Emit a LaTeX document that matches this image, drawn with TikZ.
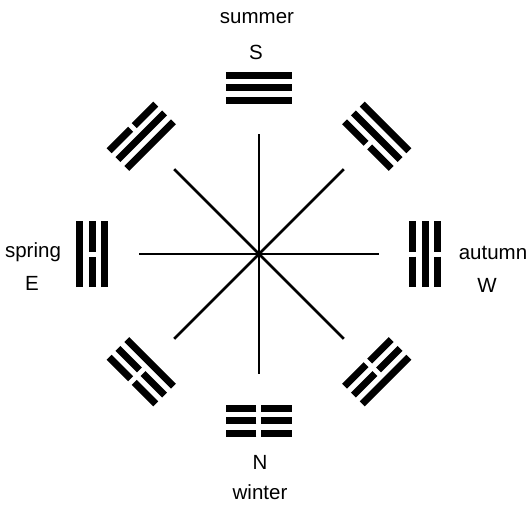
\documentclass[tikz,border=0pt]{standalone}
\usepackage{fontspec}
\setmainfont{Liberation Sans}
\usepackage{tikz}
\usetikzlibrary{positioning}

\begin{document}
\begin{tikzpicture}[
      x=1pt, y=1pt,
      spoke/.style={line width=2.8pt},
      bar/.style={line width=7pt},
      lbl/.style={font=\fontsize{20.5}{22}\selectfont, inner sep=0pt}
  ]
    \useasboundingbox (-259,-250) rectangle (269,254);
    % centre and the eight spokes
    \coordinate (c) at (0,0);
    \foreach \a in {0,45,...,315} {
      \coordinate (end\a) at (\a:120);
      \draw[spoke] (c) -- (end\a);
    }
    % trigrams: angle / inner / middle / outer line (1 = solid, 0 = broken)
    \foreach \a/\i/\m/\o in {90/1/1/1, 135/1/1/0, 180/1/0/1, -135/1/0/0,
                             -90/0/0/0, -45/0/0/1, 0/0/1/0, 45/0/1/1} {
      \begin{scope}[rotate=\a-90]
        \foreach \r/\t in {154/\i, 166.5/\m, 179/\o} {
          \ifnum\t=1
            \draw[bar] (-33,\r) -- (33,\r);
          \else
            \draw[bar] (-33,\r) -- (-2.5,\r) (2.5,\r) -- (33,\r);
          \fi
        }
      \end{scope}
    }
    % labels
    \node[lbl] (summer) at (-2,236) {summer};
    \node[lbl] (south) at (-3,202) {S};
    \node[lbl] (north) at (1,-208) {N};
    \node[lbl] (winter) at (1,-238) {winter};
    \node[lbl] (spring) at (-226,2) {spring};
    \node[lbl] (east) at (-227,-29) {E};
    \node[lbl] (autumn) at (234,1) {autumn};
    \node[lbl] (west) at (228,-31) {W};
  \end{tikzpicture}
\end{document}
